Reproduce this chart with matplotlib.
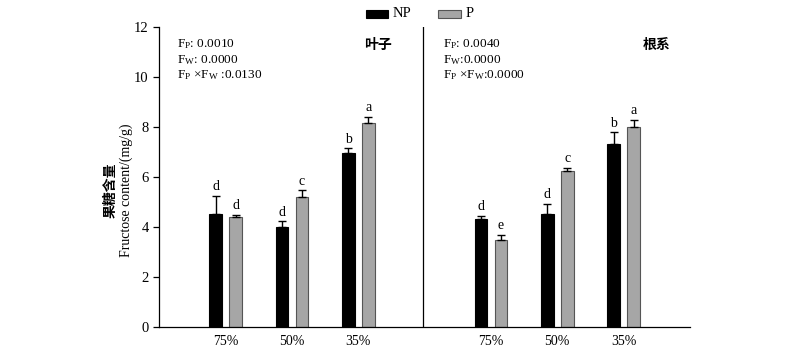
import numpy as np
import matplotlib
matplotlib.use("Agg")
import matplotlib.pyplot as plt
from matplotlib.patches import Rectangle

plt.rcParams['font.family'] = ['Liberation Serif', 'Noto Sans CJK SC']
plt.rcParams['mathtext.fontset'] = 'custom'
plt.rcParams['mathtext.rm'] = 'Liberation Serif'
plt.rcParams['mathtext.it'] = 'Liberation Serif:italic'

# water levels
levels = ['75%', '50%', '35%']

# leaf (叶子)
leaf_np = [4.53, 4.02, 6.98]
leaf_np_err = [0.73, 0.22, 0.17]
leaf_p = [4.42, 5.22, 8.16]
leaf_p_err = [0.08, 0.25, 0.26]
leaf_np_sig = ['d', 'd', 'b']
leaf_p_sig = ['d', 'c', 'a']

# root (根系)
root_np = [4.33, 4.54, 7.34]
root_np_err = [0.13, 0.40, 0.46]
root_p = [3.47, 6.23, 8.02]
root_p_err = [0.23, 0.15, 0.27]
root_np_sig = ['d', 'd', 'b']
root_p_sig = ['e', 'c', 'a']

leaf_stats = [r'F$_{\mathrm{P}}$: 0.0010', r'F$_{\mathrm{W}}$: 0.0000',
              r'F$_{\mathrm{P}}$ ×F$_{\mathrm{W}}$ :0.0130']
root_stats = [r'F$_{\mathrm{P}}$: 0.0040', r'F$_{\mathrm{W}}$:0.0000',
              r'F$_{\mathrm{P}}$ ×F$_{\mathrm{W}}$:0.0000']

fig = plt.figure(figsize=(8, 3.52), dpi=100)
ax = fig.add_axes([0.199, 0.071, 0.6635, 0.852])

w = 0.19
off = 0.15
gray = '#a6a6a6'

def draw_panel(pos, np_vals, np_err, p_vals, p_err, np_sig, p_sig):
    pos = np.array(pos, dtype=float)
    ax.bar(pos - off, np_vals, w, color='black', edgecolor='black', linewidth=0.8, zorder=2)
    ax.bar(pos + off, p_vals, w, color=gray, edgecolor='#555555', linewidth=0.8, zorder=2)
    ax.errorbar(pos - off, np_vals, yerr=[np.zeros(3), np_err], fmt='none',
                ecolor='black', elinewidth=1.0, capsize=3, capthick=1.0, zorder=3)
    ax.errorbar(pos + off, p_vals, yerr=[np.zeros(3), p_err], fmt='none',
                ecolor='black', elinewidth=1.0, capsize=3, capthick=1.0, zorder=3)
    for x, v, e, s in zip(pos - off, np_vals, np_err, np_sig):
        ax.text(x, v + e + 0.1, s, ha='center', va='bottom', fontsize=10)
    for x, v, e, s in zip(pos + off, p_vals, p_err, p_sig):
        ax.text(x, v + e + 0.1, s, ha='center', va='bottom', fontsize=10)

draw_panel([1, 2, 3], leaf_np, leaf_np_err, leaf_p, leaf_p_err, leaf_np_sig, leaf_p_sig)
draw_panel([5, 6, 7], root_np, root_np_err, root_p, root_p_err, root_np_sig, root_p_sig)

ax.axvline(3.97, ymin=0, ymax=1, color='black', linewidth=0.9)

ax.set_xlim(0, 8)
ax.set_ylim(0, 12)
ax.set_yticks(np.arange(0, 13, 2))
ax.set_xticks([1, 2, 3, 5, 6, 7])
ax.set_xticklabels(levels * 2)
ax.tick_params(axis='x', length=0, labelsize=10, pad=6)
ax.tick_params(axis='y', direction='out', length=4, width=0.9, labelsize=10.5)
for sp in ['top', 'right']:
    ax.spines[sp].set_visible(False)
ax.spines['left'].set_linewidth(0.9)
ax.spines['bottom'].set_linewidth(0.9)

# stats text
for i, t in enumerate(leaf_stats):
    ax.text(0.27, 11.3 - i * 0.62, t, fontsize=9.5, va='center', ha='left')
for i, t in enumerate(root_stats):
    ax.text(4.27, 11.3 - i * 0.62, t, fontsize=9.5, va='center', ha='left')
ax.text(3.3, 11.3, '叶子', family='Noto Sans CJK SC', fontweight='bold',
        fontsize=10, ha='center', va='center')
ax.text(7.49, 11.3, '根系', family='Noto Sans CJK SC', fontweight='bold',
        fontsize=10, ha='center', va='center')

# y label
fig.text(0.138, 0.46, '果糖含量', family='Noto Sans CJK SC', fontweight='bold',
         fontsize=10, rotation=90, ha='center', va='center')
fig.text(0.158, 0.46, 'Fructose content/(mg/g)', fontsize=10,
         rotation=90, ha='center', va='center')

# legend
fig.patches.append(Rectangle((0.457, 0.950), 0.028, 0.021, transform=fig.transFigure,
                             facecolor='black', edgecolor='black', linewidth=0.8))
fig.text(0.491, 0.961, 'NP', fontsize=10.5, va='center', ha='left')
fig.patches.append(Rectangle((0.548, 0.950), 0.028, 0.021, transform=fig.transFigure,
                             facecolor=gray, edgecolor='#555555', linewidth=0.8))
fig.text(0.582, 0.961, 'P', fontsize=10.5, va='center', ha='left')

fig.savefig('out.png', dpi=100)
